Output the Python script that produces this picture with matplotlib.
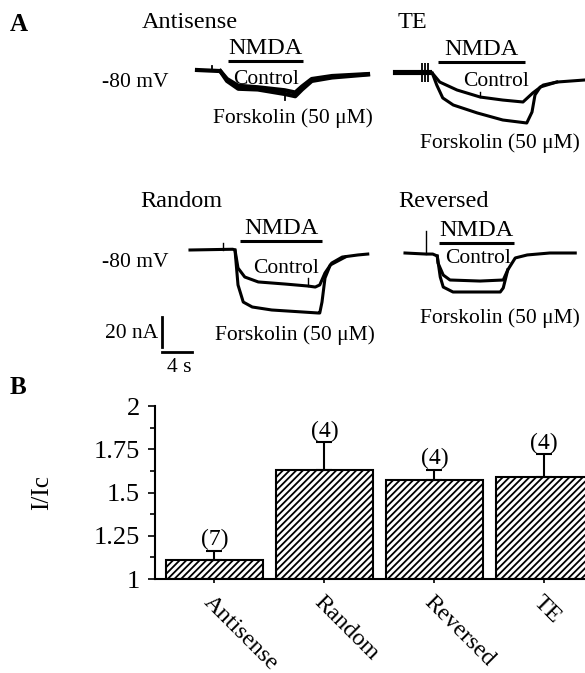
import matplotlib
matplotlib.use("Agg")
import matplotlib.pyplot as plt
import numpy as np

plt.rcParams['font.family'] = ['Liberation Serif', 'DejaVu Serif']

# ---- panel B data ----
groups = ['Antisense', 'Random', 'Reversed', 'TE']
ratio = [1.11, 1.63, 1.57, 1.59]
sem = [0.054, 0.16, 0.062, 0.13]
n_cells = ['(7)', '(4)', '(4)', '(4)']

# ---- panel A traces: time (s), current (nA), baseline = 0 ----
anti_ctrl_t = [0, 3.1, 4.0, 5.5, 8.1, 11.7, 13.1, 14.0, 15.3, 18.0, 22.8]
anti_ctrl_i = [0, -0.7, -6, -10.5, -11.5, -13.5, -15, -11, -6, -4, -2.7]
anti_fsk_t = [3.1, 4.0, 5.5, 8.1, 11.7, 13.1, 14.0, 15.3, 18.0, 22.8]
anti_fsk_i = [-0.7, -7.3, -12.5, -13, -16, -17.5, -13, -7.3, -5, -3]
anti_blip = (2.0, 0, 2.7)
anti_tick = (11.7, -16, -20)

te_ctrl_t = [0, 4.7, 5.7, 8.0, 11.1, 14.1, 16.8, 18.1, 19.5, 21.3, 25.1]
te_ctrl_i = [0, -0.7, -6.7, -12, -16.7, -18.7, -20, -14, -8.7, -6.7, -5.3]
te_fsk_t = [4.7, 5.3, 6.1, 7.5, 10.7, 14.1, 17.3, 18.0, 18.4, 19.1, 21.3]
te_fsk_i = [-0.7, -8.7, -17.3, -22, -27.3, -32, -34, -26.7, -15.3, -10, -6.7]
te_artifact_t = [3.3, 3.7, 4.1]
te_tick = (11.1, -16.7, -13.5)

rand_ctrl_t = [0, 5.7, 6.0, 6.4, 7.3, 9.1, 12.7, 15.7, 16.7, 17.3, 18.0, 18.9, 20.3, 22.4, 23.7]
rand_ctrl_i = [0, 0.5, 0, -12, -18, -21.3, -22.7, -24, -24.7, -23.3, -15.3, -8.7, -4.7, -3.3, -2.7]
rand_fsk_t = [6.0, 6.4, 7.1, 8.3, 10.9, 17.1, 17.3, 17.6, 18.0, 18.7, 20.7]
rand_fsk_i = [0, -23.3, -34.7, -38, -40, -42, -42, -34.7, -18.7, -10, -4.7]
rand_blip = (4.4, 0.3, 4.7)
rand_tick = (15.7, -24, -18.7)

rev_ctrl_t = [0, 2.8, 3.7, 4.3, 4.4, 5.1, 6.0, 10.0, 13.1, 13.7, 14.7, 16.3, 19.3, 22.7]
rev_ctrl_i = [0, -0.7, -0.7, -2, -6.7, -14.7, -18, -18.7, -18, -11.3, -3.3, -1.3, 0, 0]
rev_fsk_t = [4.3, 4.7, 5.1, 6.4, 12.7, 13.1, 13.7]
rev_fsk_i = [-2, -16, -22.7, -26, -26, -23.3, -11.3]
rev_spike = (2.8, -0.7, 15)

# NMDA application (s) and bar level (nA)
nmda_anti = (4.1, 14.1, 6.0)
nmda_te = (5.5, 17.1, 6.7)
nmda_rand = (6.7, 17.6, 6.0)
nmda_rev = (4.5, 14.5, 6.7)

W, H = 585, 673
PX_S, PX_NA = 7.5, 1.5  # pixels per second / per nA

fig = plt.figure(figsize=(W / 100, H / 100), dpi=100)

ov = fig.add_axes([0, 0, 1, 1])
ov.set_xlim(0, W)
ov.set_ylim(H, 0)
ov.axis('off')


def trace_axes(x0, y0):
    a = fig.add_axes([(x0 - 45) / W, 1 - (y0 + 115) / H, 240 / W, 160 / H])
    a.set_xlim(-45 / PX_S, 195 / PX_S)
    a.set_ylim(-115 / PX_NA, 45 / PX_NA)
    a.axis('off')
    a.patch.set_alpha(0)
    return a


def nmda(a, on_off):
    t0, t1, lev = on_off
    a.plot([t0, t1], [lev, lev], color='black', lw=2.2, solid_capstyle='butt')
    a.text((t0 + t1) / 2, lev + 1.6, 'NMDA', ha='center', va='bottom', fontsize=17.5)


def spike(a, s, w=1.3):
    a.plot([s[0], s[0]], [s[1], s[2]], color='black', lw=w)


lw = 2.2
a1 = trace_axes(197, 70)
a1.plot(anti_ctrl_t, anti_ctrl_i, color='black', lw=lw + 0.8)
a1.plot(anti_fsk_t, anti_fsk_i, color='black', lw=lw + 0.8)
spike(a1, anti_blip)
spike(a1, anti_tick)
nmda(a1, nmda_anti)

a2 = trace_axes(397, 72)
a2.plot(te_ctrl_t, te_ctrl_i, color='black', lw=lw)
a2.plot(te_fsk_t, te_fsk_i, color='black', lw=lw)
a2.plot([-0.3, 4.3], [0, 0], color='black', lw=lw + 1.5)
a2.vlines(te_artifact_t, -6.7, 6.0, color='black', lw=1.3)
spike(a2, te_tick, 1.0)
nmda(a2, nmda_te)

a3 = trace_axes(190, 250)
a3.plot(rand_ctrl_t, rand_ctrl_i, color='black', lw=lw)
a3.plot(rand_fsk_t, rand_fsk_i, color='black', lw=lw)
spike(a3, rand_blip, 1.0)
spike(a3, rand_tick, 1.0)
nmda(a3, nmda_rand)
# scale bar: 20 nA, 4 s
a3.plot([-3.73, -3.73], [-44.7, -64.7], color='black', lw=2.0)
a3.plot([-3.73, 0.27], [-68, -68], color='black', lw=2.0)

a4 = trace_axes(405, 253)
a4.plot(rev_ctrl_t, rev_ctrl_i, color='black', lw=lw)
a4.plot(rev_fsk_t, rev_fsk_i, color='black', lw=lw)
spike(a4, rev_spike, 1.0)
nmda(a4, nmda_rev)

# labels of panel A
fs_t, fs = 17.5, 15.5
ov.text(10, 31, 'A', fontsize=18, fontweight='bold', va='baseline')
ov.text(142, 28, 'Antisense', fontsize=fs_t, va='baseline')
ov.text(398, 28, 'TE', fontsize=fs_t, va='baseline')
ov.text(140, 207, 'Random', fontsize=fs_t, va='baseline')
ov.text(398, 207, 'Reversed', fontsize=fs_t, va='baseline')
ov.text(102, 87, '-80 mV', fontsize=fs, va='baseline')
ov.text(102, 267, '-80 mV', fontsize=fs, va='baseline')
ov.text(233, 84, 'Control', fontsize=fs, va='baseline')
ov.text(463, 86, 'Control', fontsize=fs, va='baseline')
ov.text(253, 273, 'Control', fontsize=fs, va='baseline')
ov.text(445, 263, 'Control', fontsize=fs, va='baseline')
ov.text(213, 123, 'Forskolin (50 μM)', fontsize=fs, va='baseline')
ov.text(420, 148, 'Forskolin (50 μM)', fontsize=fs, va='baseline')
ov.text(215, 340, 'Forskolin (50 μM)', fontsize=fs, va='baseline')
ov.text(420, 323, 'Forskolin (50 μM)', fontsize=fs, va='baseline')
ov.text(105, 338, '20 nA', fontsize=fs, va='baseline')
ov.text(167, 372, '4 s', fontsize=fs, va='baseline')
ov.text(10, 394, 'B', fontsize=18, fontweight='bold', va='baseline')

# ---- panel B ----
plt.rcParams['hatch.linewidth'] = 1.3
ax = fig.add_axes([155 / W, 1 - 579 / H, 430 / W, 173 / H])
ax.patch.set_alpha(0)
x = np.arange(len(groups))
r = np.array(ratio)
ax.bar(x, r - 1, bottom=1, width=0.88, color='white', edgecolor='black',
       hatch='/////', lw=1.5, zorder=2)
ax.errorbar(x, r, yerr=[np.zeros(len(sem)), sem], fmt='none', ecolor='black',
            elinewidth=1.5, capsize=5.5, capthick=1.5, zorder=3)
for xi, top, lab in zip(x, r + np.array(sem), n_cells):
    ax.annotate(lab, (xi, top), xytext=(0, 0.5), textcoords='offset points',
                ha='center', va='bottom', fontsize=17)
ax.set_ylim(1, 2)
ax.set_xlim(-0.54, 3.37)
ax.set_yticks([1, 1.25, 1.5, 1.75, 2])
ax.set_yticklabels(['1', '1.25', '1.5', '1.75', '2'])
ax.set_yticks(np.arange(1.125, 2, 0.25), minor=True)
ax.set_xticks(x)
ax.set_xticklabels(groups, rotation=-45, ha='left', rotation_mode='anchor')
for s in ['top', 'right']:
    ax.spines[s].set_visible(False)
for s in ['left', 'bottom']:
    ax.spines[s].set_linewidth(1.5)
ax.tick_params(axis='y', which='major', labelsize=19, length=5, width=1.2, pad=6)
ax.tick_params(axis='y', which='minor', length=3.5, width=1.2)
ax.tick_params(axis='x', labelsize=17.5, length=3, width=1.2, pad=6)
ax.set_ylabel('I/Ic', fontsize=18)
ax.yaxis.set_label_coords(-0.237, 0.5)

fig.savefig('out.png', dpi=100)
